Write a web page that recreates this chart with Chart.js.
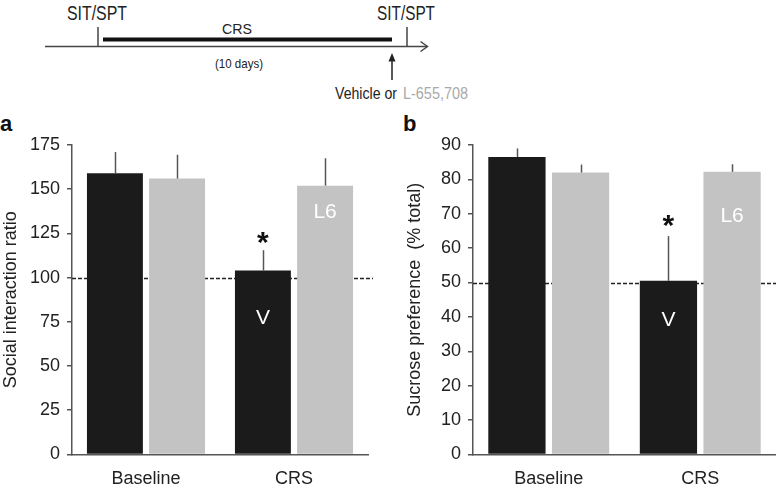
<!DOCTYPE html>
<html>
<head>
<meta charset="utf-8">
<script src="https://cdn.jsdelivr.net/npm/chart.js@4.4.1/dist/chart.umd.min.js"></script>
<style>
  html, body { margin: 0; padding: 0; background: #fff; }
  #wrap { position: relative; width: 776px; height: 504px; overflow: hidden; }
  #wrap svg, #wrap canvas { position: absolute; }
  #timeline { left: 0; top: 0; }
  #chartA { left: 0; top: 110px; }
  #chartB { left: 396px; top: 110px; }
</style>
</head>
<body>
<div id="wrap">
  <svg id="timeline" width="776" height="504" font-family="'Liberation Sans', Arial, sans-serif" fill="#222">
    <!-- protocol timeline -->
    <line x1="45" y1="46.5" x2="427" y2="46.5" stroke="#444" stroke-width="1.5"/>
    <polyline points="420.5,41.5 427.5,46.5 420.5,51.5" fill="none" stroke="#444" stroke-width="1.5"/>
    <line x1="98" y1="27" x2="98" y2="46.5" stroke="#444" stroke-width="1.5"/>
    <line x1="407" y1="27" x2="407" y2="46.5" stroke="#444" stroke-width="1.5"/>
    <rect x="103" y="37.5" width="289" height="4" fill="#111"/>
    <text x="67" y="20" font-size="21" textLength="60" lengthAdjust="spacingAndGlyphs">SIT/SPT</text>
    <text x="377" y="20" font-size="21" textLength="58" lengthAdjust="spacingAndGlyphs">SIT/SPT</text>
    <text x="222" y="34" font-size="15" textLength="30" lengthAdjust="spacingAndGlyphs">CRS</text>
    <text x="215" y="68" font-size="13" textLength="48" lengthAdjust="spacingAndGlyphs">(10 days)</text>
    <line x1="392" y1="80" x2="392" y2="60" stroke="#222" stroke-width="1.5"/>
    <polygon points="392,53 388.5,61.5 395.5,61.5" fill="#222"/>
    <text x="335" y="98.5" font-size="16" textLength="62" lengthAdjust="spacingAndGlyphs">Vehicle or</text>
    <text x="403" y="98.5" font-size="16" textLength="65" lengthAdjust="spacingAndGlyphs" fill="#a9a9a9">L-655,708</text>
    <!-- panel letters -->
    <text x="0" y="131" font-size="22" font-weight="bold" fill="#111">a</text>
    <text x="403" y="131" font-size="22" font-weight="bold" fill="#111">b</text>
  </svg>
  <canvas id="chartA" width="390" height="394"></canvas>
  <canvas id="chartB" width="380" height="394"></canvas>
</div>
<script>
var categories = ["Baseline", "CRS"];

// panel a: social interaction ratio (mean, SEM)
var socialVehicle = [159, 104];
var socialVehicleErr = [12, 11.5];
var socialL6 = [156, 152];
var socialL6Err = [13.5, 15.5];
var socialTicks = [0, 25, 50, 75, 100, 125, 150, 175];

// panel b: sucrose preference (% total)
var sucroseVehicle = [86.5, 50.5];
var sucroseVehicleErr = [2.5, 13];
var sucroseL6 = [82, 82.2];
var sucroseL6Err = [2.3, 2.2];
var sucroseTicks = [0, 10, 20, 30, 40, 50, 60, 70, 80, 90];

Chart.defaults.font.family = "'Liberation Sans', Arial, sans-serif";
Chart.defaults.color = "#222";

// dashed reference line, upward error bars, asterisk and labels inside bars
var panelExtras = {
    id: "panelExtras",
    beforeDatasetsDraw(chart, args, opts) {
        var ctx = chart.ctx;
        var area = chart.chartArea;
        var py = Math.round(chart.scales.y.getPixelForValue(opts.refValue)) + 0.5;
        ctx.save();
        ctx.setLineDash([4, 2]);
        ctx.lineWidth = 1.5;
        ctx.strokeStyle = "#222";
        ctx.beginPath();
        ctx.moveTo(area.left, py);
        ctx.lineTo(area.right + opts.refOverhang, py);
        ctx.stroke();
        ctx.restore();
    },
    afterDatasetsDraw(chart, args, opts) {
        var ctx = chart.ctx;
        var y = chart.scales.y;
        ctx.save();
        ctx.strokeStyle = "#555";
        ctx.lineWidth = 1.5;
        chart.data.datasets.forEach(function(ds, di) {
            chart.getDatasetMeta(di).data.forEach(function(bar, i) {
                var top = y.getPixelForValue(ds.data[i] + ds.errors[i]);
                var x = Math.round(bar.x) + 0.5;
                ctx.beginPath();
                ctx.moveTo(x, bar.y);
                ctx.lineTo(x, top);
                ctx.stroke();
            });
        });

        // significance star above the vehicle CRS bar
        var ds0 = chart.data.datasets[0];
        var starBar = chart.getDatasetMeta(0).data[1];
        var starY = y.getPixelForValue(ds0.data[1] + ds0.errors[1]) - opts.starGap;
        ctx.fillStyle = "#111";
        ctx.font = "bold 30px 'Liberation Sans', Arial, sans-serif";
        ctx.textAlign = "center";
        ctx.textBaseline = "alphabetic";
        ctx.fillText("*", starBar.x, starY + 17);

        ctx.fillStyle = "#fff";
        ctx.font = "21px 'Liberation Sans', Arial, sans-serif";
        ctx.textBaseline = "middle";
        opts.inner.forEach(function(lab) {
            var bar = chart.getDatasetMeta(lab.ds).data[lab.i];
            ctx.fillText(lab.text, bar.x, y.getPixelForValue(lab.value));
        });
        ctx.restore();
    }
};

function makePanel(id, vehicle, vehicleErr, l6, l6Err, ticks, axisWidth, padRight, titleText, titlePad, extras) {
    return new Chart(document.getElementById(id), {
        type: "bar",
        data: {
            labels: categories,
            datasets: [
                { label: "Vehicle", data: vehicle, errors: vehicleErr, backgroundColor: "#1b1b1b" },
                { label: "L-655,708", data: l6, errors: l6Err, backgroundColor: "#c3c3c3" }
            ]
        },
        options: {
            responsive: false,
            animation: false,
            events: [],
            layout: { padding: { top: 35, right: padRight, left: 0, bottom: 0 } },
            datasets: { bar: { categoryPercentage: 0.84, barPercentage: 0.9 } },
            plugins: {
                legend: { display: false },
                tooltip: { enabled: false },
                panelExtras: extras
            },
            scales: {
                x: {
                    grid: { display: false, drawTicks: false },
                    border: { color: "#555", width: 1.5 },
                    ticks: { padding: 14, color: "#222", font: { size: 18 } }
                },
                y: {
                    min: ticks[0],
                    max: ticks[ticks.length - 1],
                    afterBuildTicks: function(s) { s.ticks = ticks.map(function(v) { return { value: v }; }); },
                    afterFit: function(s) { s.width = axisWidth; },
                    grid: { drawOnChartArea: false, tickLength: 5, color: "#555", lineWidth: 1.5 },
                    border: { color: "#555", width: 1.5 },
                    ticks: { padding: 7, color: "#222", font: { size: 18 } },
                    title: { display: true, text: titleText, color: "#222", font: { size: 18 }, padding: { top: titlePad, bottom: 0 } }
                }
            }
        },
        plugins: [panelExtras]
    });
}

makePanel("chartA", socialVehicle, socialVehicleErr, socialL6, socialL6Err, socialTicks, 72, 22,
    "Social interaction ratio", 0,
    { refValue: 100, refOverhang: 5, starGap: 15,
      inner: [ { ds: 0, i: 1, text: "V", value: 77 }, { ds: 1, i: 1, text: "L6", value: 137 } ] });

makePanel("chartB", sucroseVehicle, sucroseVehicleErr, sucroseL6, sucroseL6Err, sucroseTicks, 77, 0,
    "Sucrose preference  (% total)", 8,
    { refValue: 50, refOverhang: 0, starGap: 18,
      inner: [ { ds: 0, i: 1, text: "V", value: 39 }, { ds: 1, i: 1, text: "L6", value: 69.4 } ] });
</script>
</body>
</html>
